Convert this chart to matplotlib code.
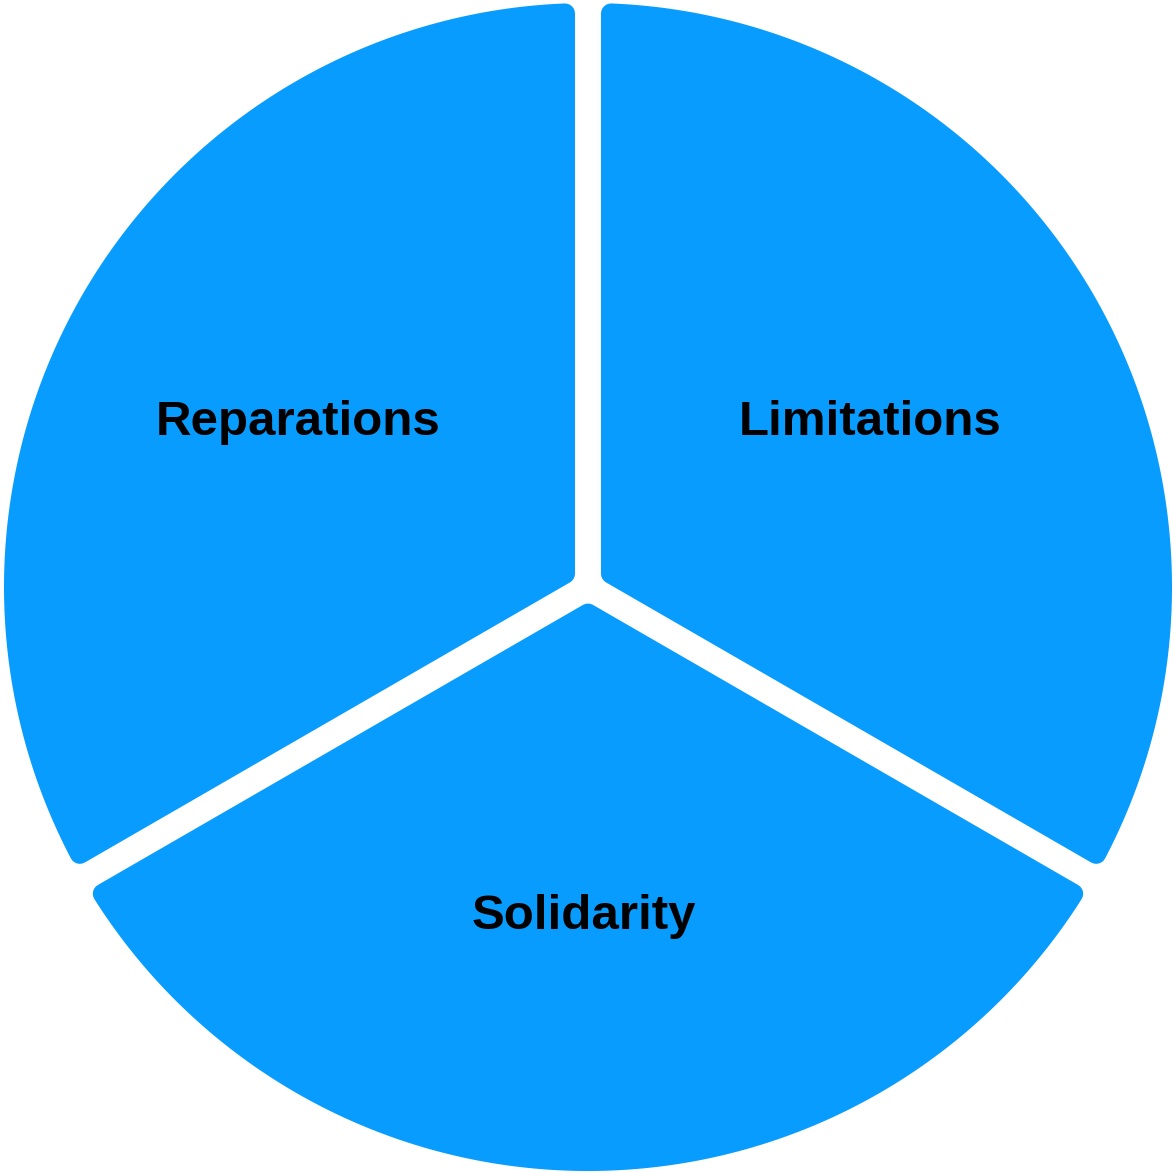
import numpy as np
import matplotlib
matplotlib.use('Agg')
import matplotlib.pyplot as plt
from matplotlib.path import Path
from matplotlib.patches import PathPatch

# ── Data ──────────────────────────────────────────────────────────────────
labels = ['Limitations', 'Solidarity', 'Reparations']
values = [1, 1, 1]

BLUE = '#089CFE'
GAP = 26 / 584       # white gap between slices (data units, radius = 1)
ROUND = 10 / 584     # corner rounding radius

fig = plt.figure(figsize=(11.74, 11.73), dpi=100)
ax = fig.add_axes([0, 0, 1, 1])

wedges, _ = ax.pie(values, startangle=90, counterclock=False, radius=1,
                   wedgeprops=dict(color=BLUE, linewidth=0))

# pixel frame: circle centre (588, 587), radius 584
px = 584
ax.set_xlim(-588 / px, (1174 - 588) / px)
ax.set_ylim(-(1173 - 587) / px, 587 / px)
ax.set_aspect('equal')
ax.axis('off')


def rounded_slice(t1, t2, h, ro):
    """Slice shrunk inwards by h from both edges and to radius ro."""
    a1, a2 = np.radians(t1), np.radians(t2)
    half = (a2 - a1) / 2
    mid = (a1 + a2) / 2
    tip = h / np.sin(half) * np.array([np.cos(mid), np.sin(mid)])
    da = np.arcsin(h / ro)
    arc = np.linspace(a1 + da, a2 - da, 200)
    pts = [tip] + [ro * np.array([np.cos(a), np.sin(a)]) for a in arc] + [tip]
    codes = [Path.MOVETO] + [Path.LINETO] * len(arc) + [Path.CLOSEPOLY]
    return Path(np.array(pts), codes)


h = GAP / 2 + ROUND
lw_pts = 2 * ROUND * px * 72 / 100
for w, lab in zip(wedges, labels):
    t1, t2 = w.theta1, w.theta2
    w.remove()
    ax.add_patch(PathPatch(rounded_slice(t1, t2, h, 1 - ROUND),
                           facecolor=BLUE, edgecolor=BLUE,
                           linewidth=lw_pts, joinstyle='round'))
    mid = np.radians((t1 + t2) / 2)
    d = 0.565
    ax.text(d * np.cos(mid) - 4 / px, d * np.sin(mid), lab,
            ha='center', va='center',
            fontsize=35.5, fontweight='bold', family='Liberation Sans',
            color='black')

plt.savefig('out.png', dpi=100)
plt.close()
